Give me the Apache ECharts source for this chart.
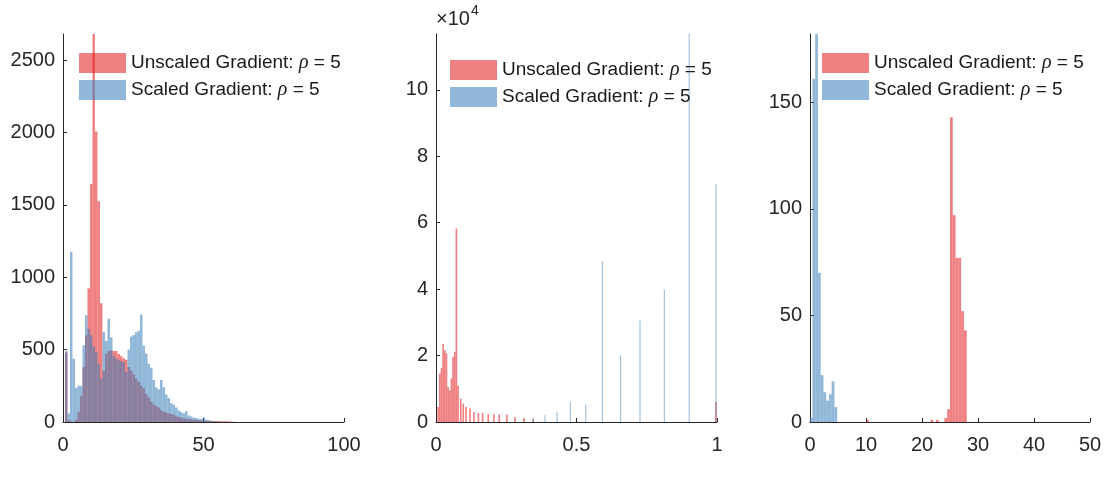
<!DOCTYPE html>
<html>
<head>
<meta charset="utf-8">
<script src="https://cdn.jsdelivr.net/npm/echarts@6/dist/echarts.min.js"></script>
<style>
html,body{margin:0;padding:0;background:#fff;}
#chart{width:1119px;height:488px;}
</style>
</head>
<body>
<div id="chart"></div>
<script>
// ---------- DATA ----------
const seriesNames = ['Unscaled Gradient: ρ = 5', 'Scaled Gradient: ρ = 5'];

// Left panel: histogram bins (start + width), counts per bin
const leftBinStart = 0.7;
const leftBinWidth = 0.89;
const leftUnscaled = [480,12,5,0,15,70,180,380,600,923,1643,2750,2007,1525,820,354,470,490,495,490,
  490,470,455,440,430,380,355,330,300,278,250,233,194,170,140,120,110,100,80,70,
  65,58,55,50,40,35,30,25,23,20,18,16,14,12,11,10,9,8,8,7,
  7,6,6,5,5,4,3,2];
const leftScaled = [490,58,1175,437,236,250,250,530,738,645,600,520,480,400,300,620,560,714,585,458,
  440,425,420,414,345,500,590,600,620,630,742,527,472,402,375,290,240,225,290,240,
  190,165,130,120,100,80,70,60,75,45,38,30,28,22,20,32,15,12,8,5,3];

// Middle panel: bin centres and counts
const midRedWidth = 0.0059;
const midRedX = [0.0077,0.0136,0.0195,0.0254,0.0313,0.0372,0.0431,0.0490,0.0549,0.0608,0.0667,0.0726,0.0785,
  0.0880,0.0970,0.1070,0.1210,0.1350,0.1510,0.1660,0.1860,0.2060,0.2250,0.2520,0.2810,0.3130,0.3460,0.9964];
const midRedY = [4500,14580,16200,23500,21600,20700,10500,9500,13100,19600,21100,58250,11000,
  7050,5540,4520,4030,3010,2710,2710,2320,2320,2320,2320,1510,1200,800,6000];
const midBlueWidth = 0.0036;
const midBlueX = [0.346,0.388,0.431,0.478,0.533,0.592,0.657,0.726,0.8125,0.901,0.9964];
const midBlueY = [1300,2000,3000,6000,5300,48500,20100,30650,39870,118000,71600];

// Right panel: bin left edges and counts
const rightWidth = 0.49;
const rightRedX = [10.0,21.5,22.5,24.0,24.5,25.0,25.5,26.0,26.5,27.0,27.5];
const rightRedY = [1,1,1,2,6,143,97,77,77,52,43];
const rightBlueX = [-0.05,0.44,0.93,1.42,1.91,2.40,2.89,3.38,3.87,4.36];
const rightBlueY = [2,161,190,70,22,14,10,13,19,7];

// Axis ticks
const leftYTicks = [0,500,1000,1500,2000,2500];
const leftXTicks = [0,50,100];
const midYTicks = [0,20000,40000,60000,80000,100000];
const midXTicks = [0,0.5,1];
const rightYTicks = [0,50,100,150];
const rightXTicks = [0,10,20,30,40,50];

// ---------- BUILD ----------
const RED = 'rgba(228,26,28,0.55)';
const BLUE = 'rgba(55,126,184,0.55)';
const AX = '#262626';
const FONT = 'Liberation Sans';

function binsFromStart(start, width, counts){
  return counts.map((c,i)=>[start+i*width, start+(i+1)*width, c]).filter(d=>d[2]>0);
}
function binsFromEdges(xs, width, counts){
  return xs.map((x,i)=>[x, x+width, counts[i]]);
}
function binsFromCenters(xs, width, counts){
  return xs.map((x,i)=>[x-width/2, x+width/2, counts[i]]);
}
function renderBar(params, api){
  const p0 = api.coord([api.value(0), 0]);
  const p1 = api.coord([api.value(1), api.value(2)]);
  const cs = params.coordSys;
  const shape = echarts.graphic.clipRectByRect(
    {x:p0[0], y:p1[1], width:p1[0]-p0[0], height:p0[1]-p1[1]},
    {x:cs.x, y:cs.y, width:cs.width, height:cs.height});
  if(!shape) return;
  return {type:'rect', shape:shape, style:{fill: api.visual('color')}};
}
function hist(name, idx, data, color){
  return {type:'custom', name:name, xAxisIndex:idx, yAxisIndex:idx, data:data,
    encode:{x:[0,1], y:2}, renderItem:renderBar, itemStyle:{color:color}, animation:false};
}
function axis(gi, min, max, ticks, fmt, isX){
  return {type:'value', gridIndex:gi, position:isX?'bottom':'left', min:min, max:max,
    axisLine:{show:true, onZero:false, lineStyle:{color:AX, width:1}},
    axisTick:{show:true, inside:true, length:4, lineStyle:{color:AX}, customValues:ticks},
    axisLabel:{show:true, color:AX, fontSize:20, fontFamily:FONT, margin:isX?13:8,
      customValues:ticks, formatter:fmt},
    splitLine:{show:false}};
}
const grids = [
  {left:63, top:34, width:281, height:388},
  {left:436, top:34, width:281, height:388},
  {left:810, top:34, width:280, height:388}
];
const legendRich = {
  t:{fontSize:19, fontFamily:FONT, color:'#1a1a1a', lineHeight:20},
  r:{fontSize:20, fontFamily:'Liberation Serif', fontStyle:'italic', color:'#1a1a1a', lineHeight:20}
};
function legend(left, top){
  return {left:left, top:top, orient:'vertical', padding:0, itemGap:7, itemWidth:47, itemHeight:20,
    icon:'rect', selectedMode:false, data:seriesNames,
    formatter:function(n){const p=n.split('ρ'); return '{t|'+p[0]+'}{r|ρ}{t|'+p[1]+'}';},
    textStyle:{rich:legendRich}};
}
const option = {
  backgroundColor:'#fff',
  animation:false,
  grid:grids,
  xAxis:[
    axis(0,0,100,leftXTicks,v=>String(v),true),
    axis(1,0,1,midXTicks,v=>String(v),true),
    axis(2,0,50,rightXTicks,v=>String(v),true)
  ],
  yAxis:[
    axis(0,0,2680,leftYTicks,v=>String(v),false),
    axis(1,0,116800,midYTicks,v=>String(v/10000),false),
    axis(2,0,182,rightYTicks,v=>String(v),false)
  ],
  legend:[legend(79,53), legend(450,60), legend(822,53)],
  graphic:[
    {type:'text', left:436, top:9, style:{text:'×10', fontSize:20, fontFamily:FONT, fill:AX}},
    {type:'text', left:471, top:4, style:{text:'4', fontSize:14, fontFamily:FONT, fill:AX}}
  ],
  series:[
    hist(seriesNames[0],0,binsFromStart(leftBinStart,leftBinWidth,leftUnscaled),RED),
    hist(seriesNames[1],0,binsFromStart(leftBinStart,leftBinWidth,leftScaled),BLUE),
    hist(seriesNames[0],1,binsFromCenters(midRedX,midRedWidth,midRedY),RED),
    hist(seriesNames[1],1,binsFromCenters(midBlueX,midBlueWidth,midBlueY),BLUE),
    hist(seriesNames[0],2,binsFromEdges(rightRedX,rightWidth,rightRedY),RED),
    hist(seriesNames[1],2,binsFromEdges(rightBlueX,rightWidth,rightBlueY),BLUE)
  ]
};
const chart = echarts.init(document.getElementById('chart'), null, {renderer:'canvas'});
chart.setOption(option);
</script>
</body>
</html>
